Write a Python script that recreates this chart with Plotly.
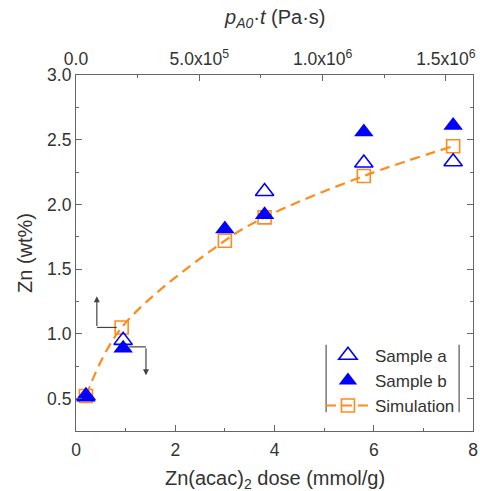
import plotly.graph_objects as go

dose_a = [0.2, 0.95, 3.8, 5.8, 7.6]
zn_a = [0.52, 0.95, 2.10, 2.32, 2.33]
dose_b = [0.2, 0.95, 3.0, 3.8, 5.8, 7.6]
zn_b = [0.51, 0.89, 1.81, 1.92, 2.56, 2.61]
dose_sim = [0.2, 0.92, 3.0, 3.8, 5.8, 7.6]
zn_sim = [0.52, 1.05, 1.72, 1.90, 2.22, 2.45]
top_tickvals = [0, 5e5, 1e6, 1.5e6]
top_ticktext = ["0.0", "5.0x10<sup>5</sup>", "1.0x10<sup>6</sup>", "1.5x10<sup>6</sup>"]

BLUE = "#0000FF"
ORANGE = "#FF8C1A"
TXT = "#333333"
AX = "#666666"
FONT = "Liberation Sans, Arial, sans-serif"
TICK = 17.5
TITLE = 20

fig = go.Figure()
fig.add_trace(go.Scatter(x=dose_sim, y=zn_sim, mode="lines+markers", name="Simulation",
                         line=dict(color=ORANGE, width=2.2, dash="10px,6px", shape="spline"),
                         marker=dict(symbol="square-open", size=13, color=ORANGE, line=dict(width=1.6))))
fig.add_trace(go.Scatter(x=dose_a, y=zn_a, mode="markers", name="Sample a",
                         marker=dict(symbol="triangle-up-open", size=16, color=BLUE, line=dict(width=1.6))))
fig.add_trace(go.Scatter(x=dose_b, y=zn_b, mode="markers", name="Sample b",
                         marker=dict(symbol="triangle-up", size=17, color=BLUE, line=dict(width=0))))
fig.add_trace(go.Scatter(x=top_tickvals, y=[None] * len(top_tickvals), xaxis="x2",
                         mode="markers", showlegend=False, hoverinfo="skip"))

# arrows indicating which axis each curve uses
fig.add_shape(type="line", x0=0.82, x1=0.42, y0=1.05, y1=1.05, line=dict(color="#444", width=1.2))
fig.add_annotation(x=0.42, y=1.29, ax=0.42, ay=1.05, xref="x", yref="y", axref="x", ayref="y",
                   showarrow=True, arrowhead=2, arrowsize=1, arrowwidth=1.2, arrowcolor="#444", text="")
fig.add_shape(type="line", x0=1.07, x1=1.41, y0=0.90, y1=0.90, line=dict(color="#444", width=1.2))
fig.add_annotation(x=1.41, y=0.68, ax=1.41, ay=0.90, xref="x", yref="y", axref="x", ayref="y",
                   showarrow=True, arrowhead=2, arrowsize=1, arrowwidth=1.2, arrowcolor="#444", text="")

# legend side bars
for xp in (0.630, 0.965):
    fig.add_shape(type="line", xref="paper", yref="paper", x0=xp, x1=xp, y0=0.053, y1=0.242,
                  line=dict(color="#555", width=1.2))

# axis titles
fig.add_annotation(text="Zn(acac)<sub>2</sub> dose (mmol/g)", xref="paper", yref="paper", x=0.5, y=0,
                   yanchor="middle", yshift=-48, showarrow=False, font=dict(size=TITLE, color=TXT))
fig.add_annotation(text="<i>p</i><sub><i>A0</i></sub>·<i>t</i> (Pa·s)", xref="paper", yref="paper", x=0.5, y=1,
                   yanchor="middle", yshift=57, showarrow=False, font=dict(size=TITLE, color=TXT))
fig.add_annotation(text="Zn (wt%)", xref="paper", yref="paper", x=0, y=0.5, textangle=-90,
                   xanchor="center", xshift=-51, showarrow=False, font=dict(size=TITLE, color=TXT))

common = dict(showline=True, linecolor=AX, linewidth=1.2, ticks="inside", ticklen=6,
              tickcolor=AX, showgrid=False, zeroline=False, automargin=False,
              tickfont=dict(size=TICK, color=TXT, family=FONT))

fig.update_layout(
    width=480, height=491,
    margin=dict(l=76, r=7, t=75, b=60),
    plot_bgcolor="white", paper_bgcolor="white",
    font=dict(family=FONT, color=TXT),
    xaxis=dict(range=[0, 8], dtick=2, tick0=0, ticklabelstandoff=3,
               minor=dict(dtick=1, ticklen=3, ticks="inside", tickcolor=AX),
               **common),
    xaxis2=dict(overlaying="x", side="top", anchor="y", range=[0, 1.61e6], ticklabelstandoff=2,
                tickmode="array", tickvals=top_tickvals, ticktext=top_ticktext,
                minor=dict(dtick=2.5e5, tick0=0, ticklen=3, ticks="inside", tickcolor=AX),
                **common),
    yaxis=dict(range=[0.25, 3.0], dtick=0.5, tick0=0.5, tickformat=".1f", mirror="ticks",
               minor=dict(dtick=0.25, ticklen=3, ticks="inside", tickcolor=AX),
               **common),
    legend=dict(x=0.617, y=0.262, xanchor="left", yanchor="top", bgcolor="rgba(0,0,0,0)",
                font=dict(size=17, color=TXT, family=FONT), traceorder="normal",
                tracegroupgap=0, itemwidth=44),
)
fig.data[0].legendrank = 3
fig.data[1].legendrank = 1
fig.data[2].legendrank = 2

fig.write_html("out.html", config={"displayModeBar": False},
               post_script="document.body.style.margin='0';document.body.style.overflow='hidden';")
